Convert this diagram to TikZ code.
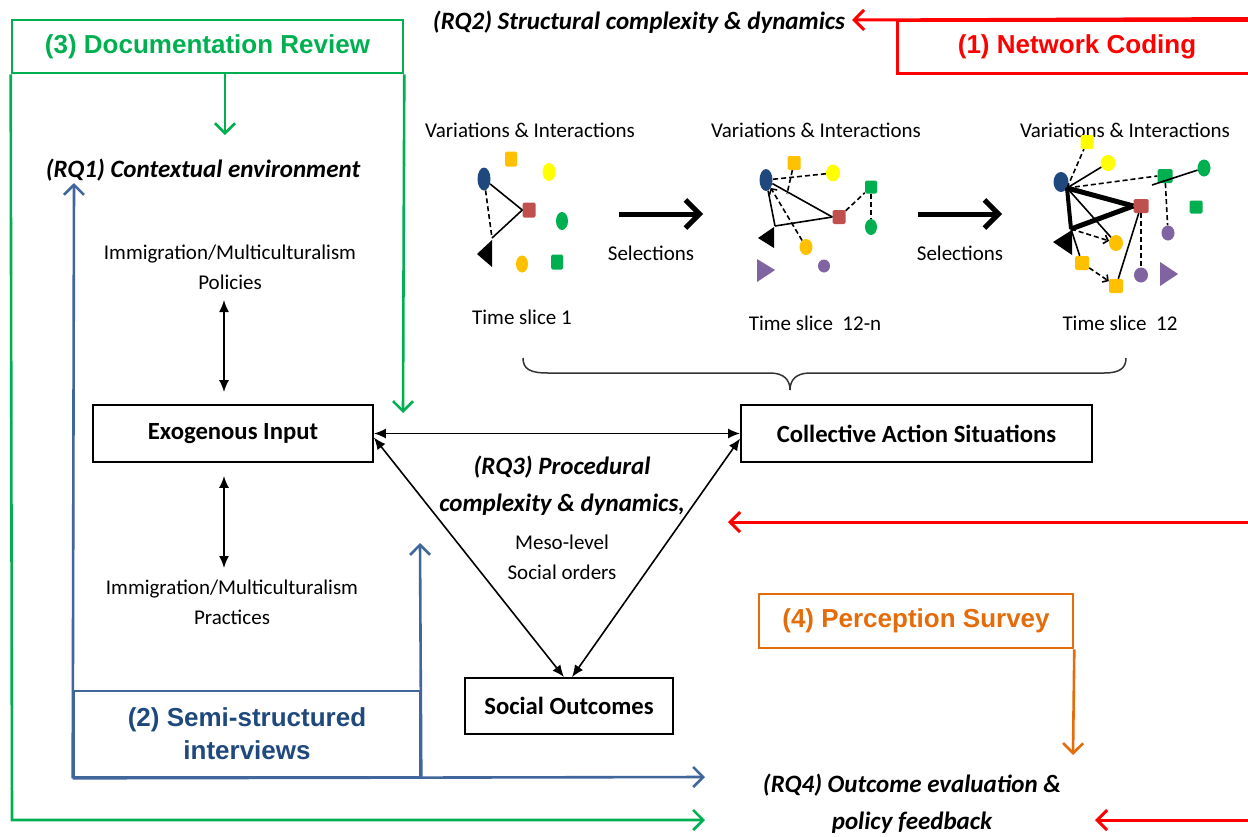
\documentclass[tikz,border=0pt]{standalone}
\usepackage{fontspec}
\setmainfont{Carlito}
\newfontfamily\hdrfont{Liberation Sans}
\usetikzlibrary{arrows.meta,shapes.geometric}
\definecolor{cGreen}{HTML}{00B050}
\definecolor{cRed}{HTML}{FF0000}
\definecolor{cOrange}{HTML}{E46C0A}
\definecolor{cBlueL}{HTML}{41669B}
\definecolor{cBlueT}{HTML}{1F497D}
\definecolor{nBlue}{HTML}{1F497D}
\definecolor{nOrange}{HTML}{FFC000}
\definecolor{nYellow}{HTML}{FFFF00}
\definecolor{nRed}{HTML}{C0504D}
\definecolor{nGreen}{HTML}{00B050}
\definecolor{nPurple}{HTML}{8064A2}
\begin{document}
\begin{tikzpicture}[x=1pt,y=-1pt,
  body/.style={font=\fontsize{21}{30}\selectfont, align=center, inner sep=0pt},
  rq/.style={font=\fontsize{25}{37}\selectfont\bfseries\itshape, align=center, inner sep=0pt},
  hdr/.style={font=\hdrfont\fontsize{26}{33}\selectfont\bfseries, align=center, inner sep=0pt},
  box/.style={draw=black, line width=1.8pt, font=\fontsize{24.7}{28}\selectfont\bfseries, inner sep=0pt},
  dbl/.style={line width=1.6pt, {Latex[length=12pt,width=10pt]}-{Latex[length=12pt,width=10pt]}},
  barb/.style={-{Straight Barb[length=10pt,width=20pt]}},
  gline/.style={draw=cGreen, line width=2.6pt},
  rline/.style={draw=cRed, line width=3pt},
  bline/.style={draw=cBlueL, line width=2.6pt},
  oline/.style={draw=cOrange, line width=2.6pt},
  ell/.style={ellipse, inner sep=0pt, draw=none},
  sqn/.style={rectangle, rounded corners=1.5pt, inner sep=0pt, draw=none},
  eS/.style={line width=1.6pt},
  eD/.style={line width=1.6pt, dash pattern=on 5pt off 3pt},
  bigarrow/.style={line width=5pt, -{Straight Barb[length=14pt,width=28pt]}},
  brace/.style={line width=1.5pt, draw=black!80}
]
\useasboundingbox (0,0) rectangle (1248,836);

% ---------- (3) Documentation Review (green) ----------
\node[hdr, draw=cGreen, line width=2.6pt, text=cGreen, minimum width=391pt, minimum height=53pt] (doc) at (207.5,46.5) {(3) Documentation Review};
\node[rq] (rq1) at (203,170) {(RQ1) Contextual environment};
\coordinate (gdown) at (225,135);
\coordinate (gbl) at (12,820);
\coordinate (gend) at (705,820);
\coordinate (gtip) at (403,413);
\draw[gline, barb] (gdown |- doc.south) -- (gdown);
\draw[gline, barb] (doc.south west) -- (gbl) -- (gend);
\draw[gline, barb] (doc.south east) -- (gtip);

% ---------- (1) Network Coding (red) ----------
\node[hdr, draw=cRed, line width=3pt, text=cRed, minimum width=360pt, minimum height=53pt] (net) at (1077,46.5) {(1) Network Coding};
\node[rq] (rq2) at (639,22) {(RQ2) Structural complexity \& dynamics};
\coordinate (rq2tip) at (852,20);
\draw[rline, barb] (net.north east) -- (rq2tip);
\coordinate (rmid) at (1260,522);
\coordinate (rmidtip) at (728,522);
\draw[rline, barb] (rmid) -- (rmidtip);
\coordinate (rbot) at (1260,820);
\coordinate (rbottip) at (1095,820);
\draw[rline, barb] (rbot) -- (rbottip);

% ---------- (2) Semi-structured interviews (blue) ----------
\node[hdr, draw=cBlueL, line width=2.6pt, text=cBlueT, minimum width=346pt, minimum height=86pt] (semi) at (247,734) {(2) Semi-structured\\interviews};
\coordinate (bup1) at (74,183);
\coordinate (bup2) at (420,543);
\coordinate (bright) at (705,777);
\draw[bline, barb] (semi.south west) -- (bup1);
\draw[bline, barb] (semi.south east) -- (bup2);
\draw[bline, barb] (semi.south west) -- (bright);

% ---------- (4) Perception Survey (orange) ----------
\node[hdr, draw=cOrange, line width=2.6pt, text=cOrange, minimum width=314pt, minimum height=54pt] (perc) at (916,621) {(4) Perception Survey};
\coordinate (otip) at (1073,755);
\draw[oline, barb] (perc.south east) -- (otip);
\node[rq] (rq4) at (912,804) {(RQ4) Outcome evaluation \&\\policy feedback};

% ---------- central boxes ----------
\node[box, minimum width=280pt, minimum height=57pt] (exo) at (233,433.5) {Exogenous Input};
\node[box, minimum width=351pt, minimum height=57pt] (cas) at (916.5,433.5) {Collective Action Situations};
\node[box, minimum width=208pt, minimum height=56pt] (so) at (569,706) {Social Outcomes};

\node[body] (pol) at (230,267) {Immigration/Multiculturalism\\Policies};
\node[body] (prac) at (232,602) {Immigration/Multiculturalism\\Practices};
\coordinate (pa) at (224,300);
\coordinate (pb) at (224,568);
\draw[dbl, shorten >=12pt] (pa) -- (pa |- exo.north);
\draw[dbl, shorten <=13pt] (pb |- exo.south) -- (pb);

\draw[dbl] (exo.east) -- (cas.west);
\draw[dbl] ([yshift=-4pt]exo.east) -- ([xshift=-5pt]so.north);
\draw[dbl] ([yshift=-5pt]cas.west) -- ([xshift=3pt]so.north);

\node[rq] (rq3) at (562,486) {(RQ3) Procedural\\complexity \& dynamics,};
\node[body] (meso) at (562,557) {Meso-level\\Social orders};

% ---------- brace ----------
\draw[brace] (523,358) .. controls (523,369) and (530,373) .. (548,373) -- (770,373)
  .. controls (784,373) and (790,380) .. (790,390)
  .. controls (790,380) and (796,373) .. (810,373) -- (1104,373)
  .. controls (1120,373) and (1126,368) .. (1126,358);

% ---------- labels above / below networks ----------
\node[body] (v1) at (530,130) {Variations \& Interactions};
\node[body] (v2) at (816,130) {Variations \& Interactions};
\node[body] (v3) at (1125,130) {Variations \& Interactions};
\node[body] (t1) at (522,317) {Time slice 1};
\node[body] (t2) at (815,323) {Time slice\ \ 12-n};
\node[body] (t3) at (1120,323) {Time slice\ \ 12};
\node[body] (s1) at (651,253) {Selections};
\node[body] (s2) at (960,253) {Selections};
\coordinate (ar1a) at (619,214);
\coordinate (ar1b) at (703,214);
\coordinate (ar2a) at (918,214);
\coordinate (ar2b) at (1002,214);
\draw[bigarrow] (ar1a) -- (ar1b);
\draw[bigarrow] (ar2a) -- (ar2b);

% ---------- network: time slice 1 ----------
\node[ell, fill=nBlue, minimum width=13pt, minimum height=23pt] (a1b) at (484,179) {};
\node[sqn, fill=nOrange, minimum width=12pt, minimum height=15pt] (a1o) at (511,159) {};
\node[ell, fill=nYellow, minimum width=13pt, minimum height=18pt] (a1y) at (549,172) {};
\node[sqn, fill=nRed, minimum width=13pt, minimum height=15pt] (a1r) at (529,210) {};
\node[ell, fill=nGreen, minimum width=12pt, minimum height=18pt] (a1g) at (562,221) {};
\node[ell, fill=nOrange, minimum width=12pt, minimum height=17pt] (a1oe) at (522,264) {};
\node[sqn, fill=nGreen, minimum width=12pt, minimum height=15pt] (a1gs) at (557,262) {};
\fill (477,254) -- (492,240) -- (492,267) -- cycle;
\coordinate (a1t) at (492,238);
\draw[eS] (a1b) -- (a1r.west);
\draw[eS] (a1r.west) -- (a1t);
\draw[eD] (a1b) -- (a1t);

% ---------- network: time slice 12-n ----------
\node[ell, fill=nBlue, minimum width=13pt, minimum height=22pt] (b1b) at (766,180) {};
\node[sqn, fill=nOrange, minimum width=13pt, minimum height=14pt] (b1o) at (794,163) {};
\node[ell, fill=nYellow, minimum width=14pt, minimum height=17pt] (b1y) at (833,173) {};
\node[sqn, fill=nGreen, minimum width=12pt, minimum height=13pt] (b1gs) at (871,187) {};
\node[sqn, fill=nRed, minimum width=13pt, minimum height=14pt] (b1r) at (839,217) {};
\node[ell, fill=nGreen, minimum width=12pt, minimum height=16pt] (b1ge) at (871,227) {};
\node[ell, fill=nOrange, minimum width=13pt, minimum height=16pt] (b1oe) at (806,247) {};
\node[ell, fill=nPurple, minimum width=12pt, minimum height=13pt] (b1pe) at (824,266) {};
\fill (758,238) -- (774,227) -- (774,248) -- cycle;
\fill[nPurple] (757,259) -- (775,270) -- (757,282) -- cycle;
\coordinate (b1t) at (775,226);
\coordinate (b1q) at (787,194);
\draw[eS] (b1b) -- (b1r.west);
\draw[eS] (b1b) -- (b1t);
\draw[eS] (b1t) -- (b1r.west);
\draw[eD] (b1y) -- (b1b);
\draw[eD] (b1o) -- (b1q);
\draw[eD, -{Straight Barb[length=4pt,width=9pt]}] (b1oe) -- (b1b);
\draw[eD] (b1r) -- (b1gs);
\draw[eD] (b1gs) -- (b1ge);

% ---------- network: time slice 12 ----------
\node[sqn, fill=nYellow, minimum width=13pt, minimum height=14pt] (c1ys) at (1087,142) {};
\node[ell, fill=nYellow, minimum width=15pt, minimum height=16pt] (c1ye) at (1108,163) {};
\node[ell, fill=nBlue, minimum width=15pt, minimum height=20pt] (c1b) at (1061,182) {};
\node[sqn, fill=nGreen, minimum width=15pt, minimum height=14pt] (c1gs) at (1165,176) {};
\node[ell, fill=nGreen, minimum width=13pt, minimum height=17pt] (c1ge) at (1204,168) {};
\node[sqn, fill=nRed, minimum width=15pt, minimum height=14pt] (c1r) at (1141,206) {};
\node[sqn, fill=nGreen, minimum width=13pt, minimum height=13pt] (c1gs2) at (1196,207) {};
\node[ell, fill=nPurple, minimum width=13pt, minimum height=15pt] (c1pe) at (1168,233) {};
\node[ell, fill=nOrange, minimum width=14pt, minimum height=16pt] (c1oe) at (1116,243) {};
\node[sqn, fill=nOrange, minimum width=14pt, minimum height=14pt] (c1os) at (1082,263) {};
\node[ell, fill=nPurple, minimum width=14pt, minimum height=15pt] (c1pe2) at (1141,275) {};
\node[sqn, fill=nOrange, minimum width=14pt, minimum height=14pt] (c1os2) at (1116,286) {};
\fill (1053,242) -- (1072,230) -- (1072,255) -- cycle;
\fill[nPurple] (1160,262) -- (1178,274) -- (1160,286) -- cycle;
\coordinate (c1t) at (1071,229);
\coordinate (c1bb) at (1067,188);
\coordinate (c1gl) at (1152,185);
\draw[line width=5pt] (c1bb) -- (c1r.west);
\draw[line width=4pt] (c1bb) -- (c1t);
\draw[line width=5pt] (c1t) -- (c1r.west);
\draw[eS] (c1bb) -- (c1ye);
\draw[eD] (c1bb) -- (c1ys);
\draw[eD] (c1bb) -- (c1gs.west);
\draw[eS] (c1gl) -- (c1ge);
\draw[eD] (c1gs) -- (c1pe);
\draw[eS] (c1bb) -- (c1oe);
\draw[eD, -{Straight Barb[length=4pt,width=9pt]}] (c1t) -- (c1oe);
\draw[eS] (c1t) -- (c1os);
\draw[eD, -{Straight Barb[length=4pt,width=9pt]}] (c1os) -- (c1os2);
\draw[eS] (c1r) -- (c1os2);
\draw[eD] (c1r) -- (c1pe2);
\end{tikzpicture}
\end{document}
